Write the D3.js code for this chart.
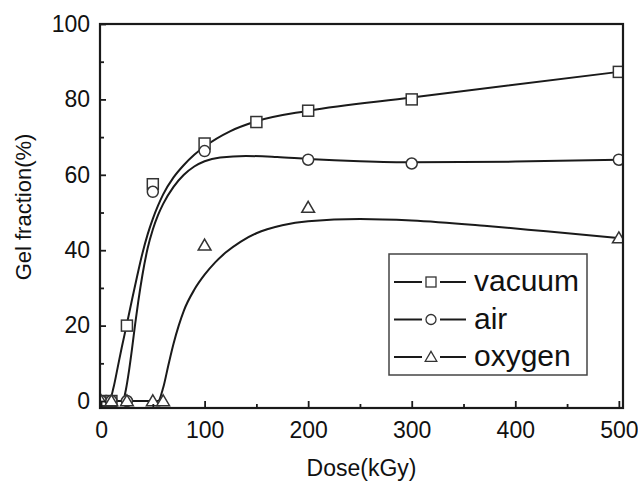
<!DOCTYPE html>
<html><head><meta charset="utf-8">
<script src="https://cdn.jsdelivr.net/npm/d3@7"></script>
<style>body{margin:0;background:#fff}</style>
</head><body>
<svg id="c" width="638" height="481"></svg>
<script>
// ---- data ----
const seriesNames = ["vacuum", "air", "oxygen"];
const vacuumX = [0, 10, 25, 50, 100, 150, 200, 300, 500];
const vacuumY = [0, 0, 20, 57.5, 68.3, 74, 77, 80, 87.3];
const airX = [0, 10, 25, 50, 100, 200, 300, 500];
const airY = [0, 0, 0, 55.5, 66.3, 64, 63, 64];
const oxygenX = [0, 10, 25, 50, 60, 100, 200, 500];
const oxygenY = [0, 0, 0, 0, 0, 41.3, 51.3, 43.2];
// fitted (smoothed) curves
const vacuumFitX = [0, 8, 12, 16, 20, 25, 30, 35, 40, 45, 50, 55, 60, 70, 80, 90, 100, 125, 150, 200, 300, 500];
const vacuumFitY = [0, 0, 3.5, 8.8, 14.2, 20.5, 27, 33.3, 39.2, 44.2, 48.3, 51.8, 54.8, 59.3, 62.6, 65.3, 67.5, 71.6, 74.2, 77, 80.5, 87.3];
const airFitX = [0, 21, 24, 27, 30, 33, 36, 40, 45, 50, 55, 60, 70, 80, 90, 100, 115, 140, 170, 200, 250, 300, 400, 500];
const airFitY = [0, 0, 3, 8, 14, 20.5, 26.5, 33.5, 40.5, 45.5, 49.3, 52.3, 56.8, 60, 62.2, 63.6, 64.6, 65, 64.7, 64.2, 63.6, 63.3, 63.5, 64];
const oxygenFitX = [0, 55, 60, 65, 70, 75, 80, 90, 100, 110, 120, 135, 150, 175, 200, 250, 300, 370, 430, 500];
const oxygenFitY = [0, 0, 3.5, 9.5, 15.2, 20, 24, 29.5, 33.5, 36.7, 39.3, 42.3, 44.5, 46.6, 47.7, 48.3, 47.9, 46.5, 45, 43.2];
const xTicks = [0, 100, 200, 300, 400, 500];
const xMinor = [50, 150, 250, 350, 450];
const yTicks = [0, 20, 40, 60, 80, 100];
const yMinor = [10, 30, 50, 70, 90];

// ---- layout ----
const L = 100, R = 623, T = 24, B = 408;
const FONT = "'Liberation Sans', Arial, Helvetica, sans-serif";
const svg = d3.select("#c");
const x = d3.scaleLinear().domain([-1, 504]).range([L, R]);
const y = d3.scaleLinear().domain([-1.85, 100]).range([B, T]);
const ink = "#1a1a1a";

svg.append("defs").append("clipPath").attr("id", "clip")
  .append("rect").attr("x", L).attr("y", T).attr("width", R - L).attr("height", B - T);

const series = [
  {name: seriesNames[0], xs: vacuumX, ys: vacuumY, fx: vacuumFitX, fy: vacuumFitY, sym: "square"},
  {name: seriesNames[1], xs: airX, ys: airY, fx: airFitX, fy: airFitY, sym: "circle"},
  {name: seriesNames[2], xs: oxygenX, ys: oxygenY, fx: oxygenFitX, fy: oxygenFitY, sym: "triangle"}
];

const line = d3.line().x(d => x(d[0])).y(d => y(d[1])).curve(d3.curveMonotoneX);
const plot = svg.append("g").attr("clip-path", "url(#clip)");
series.forEach(s => {
  plot.append("path").datum(d3.zip(s.fx, s.fy)).attr("d", line)
    .attr("fill", "none").attr("stroke", ink).attr("stroke-width", 2);
});

function marker(g, sym, cx, cy, size) {
  if (sym === "square") {
    g.append("rect").attr("x", cx - size / 2).attr("y", cy - size / 2)
      .attr("width", size).attr("height", size);
  } else if (sym === "circle") {
    g.append("circle").attr("cx", cx).attr("cy", cy).attr("r", size / 2);
  } else {
    const h = size * 0.95;
    g.append("path").attr("d", `M${cx},${cy - h * 0.6}L${cx + size * 0.58},${cy + h * 0.45}L${cx - size * 0.58},${cy + h * 0.45}Z`);
  }
}
const mk = svg.append("g").attr("clip-path", "url(#clip)")
  .attr("fill", "#fff").attr("stroke", "#333").attr("stroke-width", 1.5);
series.forEach(s => {
  s.xs.forEach((v, i) => marker(mk, s.sym, x(v), y(s.ys[i]), 11));
});

// ---- axes ----
const fontSize = 23;
const gx = svg.append("g").attr("transform", `translate(0,${B})`)
  .call(d3.axisBottom(x).tickValues(xTicks).tickSizeInner(-7).tickSizeOuter(0).tickPadding(14).tickFormat(d3.format("d")));
const gxm = svg.append("g").attr("transform", `translate(0,${B})`)
  .call(d3.axisBottom(x).tickValues(xMinor).tickSizeInner(-4).tickSizeOuter(0).tickFormat(""));
const gy = svg.append("g").attr("transform", `translate(${L},0)`)
  .call(d3.axisLeft(y).tickValues(yTicks).tickSizeInner(-6).tickSizeOuter(0).tickPadding(10).tickFormat(d3.format("d")));
const gym = svg.append("g").attr("transform", `translate(${L},0)`)
  .call(d3.axisLeft(y).tickValues(yMinor).tickSizeInner(-4).tickSizeOuter(0).tickFormat(""));
[gx, gxm, gy, gym].forEach(g => {
  g.selectAll("path.domain").remove();
  g.selectAll(".tick line").attr("stroke", ink).attr("stroke-width", 1.8);
  g.selectAll("text").attr("font-family", FONT).attr("font-size", fontSize).attr("fill", "#111");
});

// frame
svg.append("rect").attr("x", L).attr("y", T).attr("width", R - L).attr("height", B - T)
  .attr("fill", "none").attr("stroke", ink).attr("stroke-width", 2.2);

// titles
svg.append("text").attr("x", (L + R) / 2).attr("y", 476).attr("text-anchor", "middle")
  .attr("font-family", FONT).attr("font-size", 23).attr("fill", "#111").text("Dose(kGy)");
svg.append("text").attr("transform", `translate(31,${207}) rotate(-90)`).attr("text-anchor", "middle")
  .attr("font-family", FONT).attr("font-size", 22).attr("fill", "#111").text("Gel fraction(%)");

// ---- legend ----
const lg = svg.append("g");
lg.append("rect").attr("x", 389).attr("y", 254).attr("width", 198).attr("height", 121)
  .attr("fill", "#fff").attr("stroke", "#444").attr("stroke-width", 1.5);
series.forEach((s, i) => {
  const cy = 282 + i * 37.5;
  [[394, 422], [440, 466]].forEach(seg => {
    lg.append("line").attr("x1", seg[0]).attr("x2", seg[1]).attr("y1", cy).attr("y2", cy)
      .attr("stroke", ink).attr("stroke-width", 2);
  });
  const g = lg.append("g").attr("fill", "#fff").attr("stroke", "#333").attr("stroke-width", 1.3);
  marker(g, s.sym, 431, cy, 10);
  lg.append("text").attr("x", 474).attr("y", cy + 9).attr("font-family", FONT)
    .attr("font-size", 30).attr("fill", "#111").text(s.name);
});
</script>
</body></html>
